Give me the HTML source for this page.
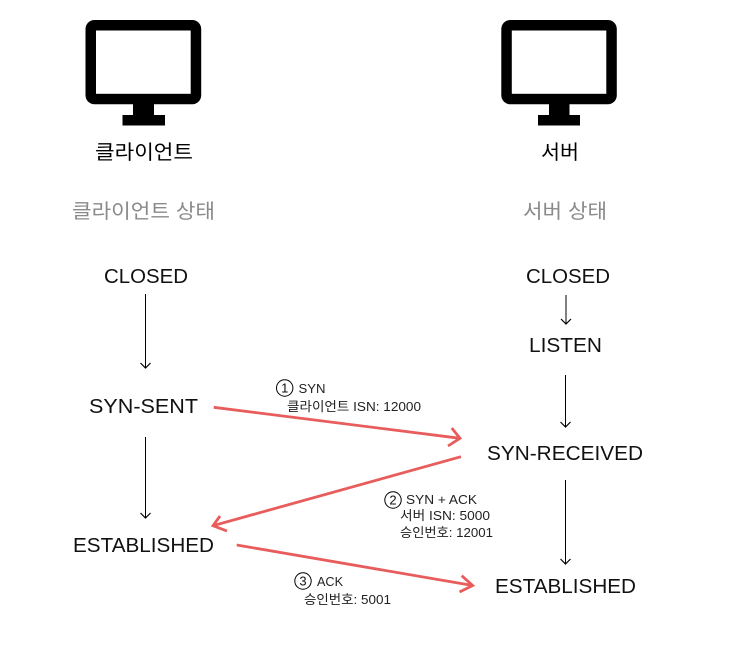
<!DOCTYPE html>
<html><head><meta charset="utf-8"><style>
html,body{margin:0;padding:0;background:#fff}
svg{display:block}
text{font-family:"Liberation Sans","Noto Sans CJK KR",sans-serif;fill:#000}
.l{font-size:20px;fill:#111}
.k{font-size:20px;fill:#000}
.g{font-size:20px;fill:#8a8a8a}
.s{font-size:13px;fill:#222}
.n{font-size:13px;fill:#111}
</style></head><body>
<svg width="732" height="646" viewBox="0 0 732 646" xmlns="http://www.w3.org/2000/svg">
<defs><marker id="a" markerWidth="12" markerHeight="12" refX="9" refY="6" orient="auto" markerUnits="userSpaceOnUse"><path d="M4 1L9 6L4 11" fill="none" stroke="#000" stroke-width="1.2"/></marker></defs>
<!-- monitors -->
<rect x="85.500" y="20" width="115.700" height="84.300" rx="9" fill="#000"/>
<rect x="96" y="30.500" width="94.700" height="63.300" fill="#fff"/>
<rect x="133" y="104" width="21" height="12" fill="#000"/><rect x="122.500" y="115" width="42.500" height="10.500" fill="#000"/>
<rect x="501.300" y="20" width="115.500" height="84.300" rx="9" fill="#000"/>
<rect x="511.800" y="30.500" width="94.500" height="63.300" fill="#fff"/>
<rect x="549" y="104" width="20.500" height="12" fill="#000"/><rect x="538" y="115" width="42" height="10.500" fill="#000"/>
<!-- headings -->
<text class="k" x="95" y="159" textLength="98" lengthAdjust="spacingAndGlyphs">클라이언트</text>
<text class="k" x="541" y="159" textLength="38" lengthAdjust="spacingAndGlyphs">서버</text>
<text class="g" x="72" y="218" textLength="143" lengthAdjust="spacingAndGlyphs">클라이언트 상태</text>
<text class="g" x="523" y="218" textLength="84" lengthAdjust="spacingAndGlyphs">서버 상태</text>
<!-- states -->
<text class="l" x="104" y="283" textLength="84" lengthAdjust="spacingAndGlyphs">CLOSED</text>
<text class="l" x="89" y="413" textLength="109" lengthAdjust="spacingAndGlyphs">SYN-SENT</text>
<text class="l" x="73" y="552" textLength="141" lengthAdjust="spacingAndGlyphs">ESTABLISHED</text>
<text class="l" x="526" y="283" textLength="84" lengthAdjust="spacingAndGlyphs">CLOSED</text>
<text class="l" x="529" y="352" textLength="73" lengthAdjust="spacingAndGlyphs">LISTEN</text>
<text class="l" x="487" y="460" textLength="156" lengthAdjust="spacingAndGlyphs">SYN-RECEIVED</text>
<text class="l" x="495" y="593" textLength="141" lengthAdjust="spacingAndGlyphs">ESTABLISHED</text>
<!-- black arrows -->
<g stroke="#000" stroke-width="1" fill="none" marker-end="url(#a)">
<line x1="145.500" y1="294" x2="145.500" y2="368"/>
<line x1="145.500" y1="437" x2="145.500" y2="518"/>
<line x1="566" y1="295" x2="566" y2="324"/>
<line x1="565.500" y1="375" x2="565.500" y2="427"/>
<line x1="565.500" y1="480" x2="565.500" y2="564"/>
</g>
<!-- red arrows -->
<g stroke="#e85c5c" stroke-width="2.800" fill="none">
<path d="M213.700 407.300L460 438.300"/><path d="M451.700 428L460 438.300L448 446"/>
<path d="M461 456.700L213 525.700"/><path d="M227 531L213 525.700L220 516"/>
<path d="M236.700 545L472.700 585.500"/><path d="M461.700 575.700L472.700 585.500L459.500 592"/>
</g>
<!-- labels -->
<circle cx="284.700" cy="388" r="8.200" fill="none" stroke="#000" stroke-width="1"/><text class="n" x="284.700" y="392.500" text-anchor="middle">1</text>
<text class="s" x="298.500" y="393" textLength="27" lengthAdjust="spacingAndGlyphs">SYN</text>
<text class="s" x="287" y="411" textLength="134" lengthAdjust="spacingAndGlyphs">클라이언트 ISN: 12000</text>
<circle cx="393" cy="500" r="8.200" fill="none" stroke="#000" stroke-width="1"/><text class="n" x="393" y="504.500" text-anchor="middle">2</text>
<text class="s" x="406" y="504" textLength="71" lengthAdjust="spacingAndGlyphs">SYN + ACK</text>
<text class="s" x="400" y="520" textLength="90" lengthAdjust="spacingAndGlyphs">서버 ISN: 5000</text>
<text class="s" x="400" y="537" textLength="93" lengthAdjust="spacingAndGlyphs">승인번호: 12001</text>
<circle cx="303" cy="581" r="8.200" fill="none" stroke="#000" stroke-width="1"/><text class="n" x="303" y="585.500" text-anchor="middle">3</text>
<text class="s" x="317" y="586" textLength="26" lengthAdjust="spacingAndGlyphs">ACK</text>
<text class="s" x="304" y="604" textLength="87" lengthAdjust="spacingAndGlyphs">승인번호: 5001</text>
</svg>
</body></html>
